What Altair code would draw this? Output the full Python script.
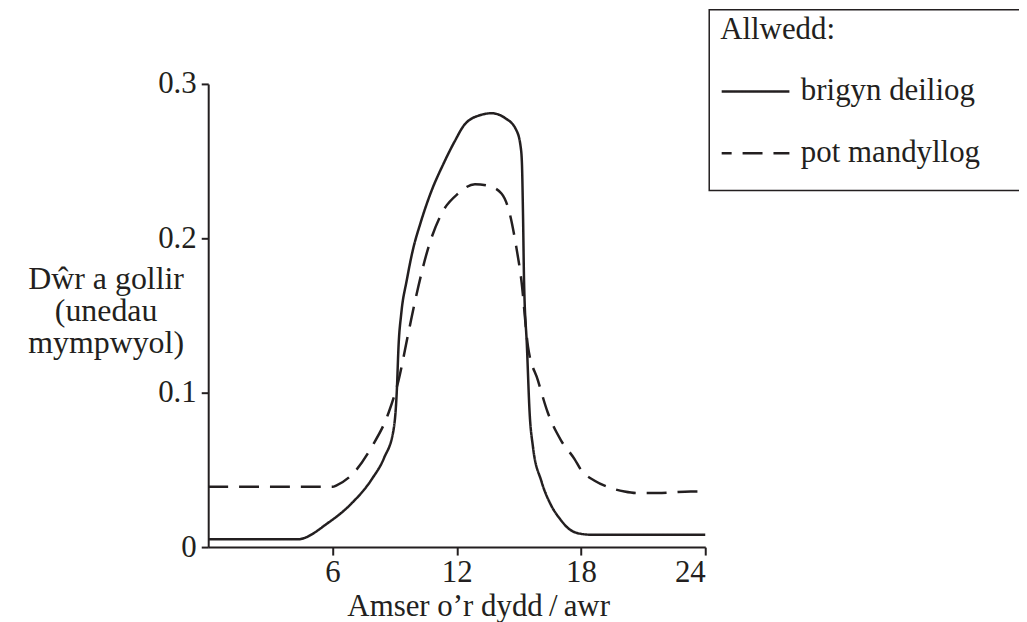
import altair as alt
import pandas as pd

# Solid line: brigyn deiliog (leafy twig)
hours_solid = [0, 2, 4.3, 5.82, 6.9, 7.9, 8.5, 8.95, 9.11, 9.19, 9.32, 9.59, 9.91,
               10.23, 10.79, 11.35, 11.91, 12.4, 13.19, 13.68, 14.32, 14.88, 15.09,
               15.15, 15.2, 15.25, 15.39, 15.52, 15.68, 16.08, 16.56, 17.0, 17.4, 17.85,
               18.5, 20, 22, 24]
water_solid = [0.005, 0.005, 0.005, 0.016, 0.028, 0.044, 0.058, 0.076, 0.102, 0.130,
               0.151, 0.173, 0.194, 0.209, 0.231, 0.248, 0.263, 0.274, 0.280, 0.281,
               0.278, 0.270, 0.259, 0.248, 0.216, 0.173, 0.130, 0.087, 0.065, 0.043,
               0.027, 0.018, 0.012, 0.009, 0.008, 0.008, 0.008, 0.008]

# Dashed line: pot mandyllog (porous pot)
hours_dashed = [0, 2, 4, 6.0, 6.2, 7.02, 7.9, 8.71, 9.19, 9.67, 10.15, 10.63, 11.27, 12.07,
                12.88, 13.52, 14.16, 14.56, 14.88, 15.12, 15.44, 15.92, 16.4, 17.04,
                17.69, 18.0, 18.66, 19.29, 20.1, 20.7, 21.7, 23.3, 24]
water_dashed = [0.039, 0.039, 0.039, 0.039, 0.040, 0.048, 0.065, 0.087, 0.108, 0.139, 0.169,
                0.194, 0.216, 0.229, 0.235, 0.234, 0.229, 0.216, 0.194, 0.173, 0.130,
                0.108, 0.087, 0.069, 0.057, 0.050, 0.043, 0.039, 0.036, 0.035, 0.035,
                0.036, 0.036]

series_names = ["brigyn deiliog", "pot mandyllog"]
x_ticks = [6, 12, 18, 24]
y_ticks = [0, 0.1, 0.2, 0.3]

df = pd.concat([
    pd.DataFrame({"awr": hours_solid, "dwr": water_solid, "cyfres": series_names[0]}),
    pd.DataFrame({"awr": hours_dashed, "dwr": water_dashed, "cyfres": series_names[1]}),
], ignore_index=True)

INK = "#231f20"
FONT = "Liberation Serif"

lines = alt.Chart(df).mark_line(
    color=INK, strokeWidth=2.5, interpolate="monotone", clip=False
).encode(
    x=alt.X("awr:Q", scale=alt.Scale(domain=[0, 24], nice=False, zero=True),
            axis=alt.Axis(values=x_ticks, title="Amser o\u2019r dydd\u2009/\u2009awr",
                          titleX=271, titleY=69, titleAlign="center",
                          titleBaseline="alphabetic",
                          labelBaseline="alphabetic", labelPadding=27, tickSize=8)),
    y=alt.Y("dwr:Q", scale=alt.Scale(domain=[0, 0.3], nice=False),
            axis=alt.Axis(values=y_ticks,
                          labelExpr="datum.value == 0 ? '0' : format(datum.value, '.1f')",
                          title=["D\u0175r a gollir", "(unedau", "mympwyol)"],
                          titleAngle=0, titleX=-103, titleY=205, titleAlign="center",
                          titleBaseline="alphabetic", titleLineHeight=32.5,
                          titleFontSize=32, tickSize=7, labelPadding=5)),
    strokeDash=alt.StrokeDash(
        "cyfres:N",
        scale=alt.Scale(domain=series_names, range=[[1, 0], [20, 11]]),
        legend=alt.Legend(title="Allwedd:", orient="none", legendX=514, legendY=-69,
                          symbolType="stroke", symbolSize=68 * 68,
                          symbolStrokeWidth=2.5, symbolStrokeColor=INK,
                          symbolDashOffset=10,
                          labelFont=FONT, labelFontSize=31, labelColor=INK,
                          titleFont=FONT, titleFontSize=31, titleFontWeight="normal",
                          titleColor=INK, titlePadding=10, rowPadding=11,
                          labelOffset=10, padding=0, labelLimit=400),
    ),
)

box = alt.Chart(pd.DataFrame({"k": [0]})).mark_rect(
    fillOpacity=0, stroke=INK, strokeWidth=1.5
).encode(
    x=alt.value(503), x2=alt.value(840), y=alt.value(-74.5), y2=alt.value(107)
)

chart = alt.layer(box, lines).properties(
    width=499, height=465,
    autosize=alt.AutoSizeParams(type="none"),
    padding={"left": 201, "top": 75, "right": 315, "bottom": 74},
).configure_view(stroke=None).configure_axis(
    domainColor=INK, domainWidth=2, tickColor=INK, tickWidth=2,
    labelFont=FONT, labelFontSize=31, labelColor=INK,
    titleFont=FONT, titleFontSize=31, titleColor=INK, titleFontWeight="normal",
    grid=False,
)

chart.save("out.html", embed_options={"renderer": "svg", "actions": False})
